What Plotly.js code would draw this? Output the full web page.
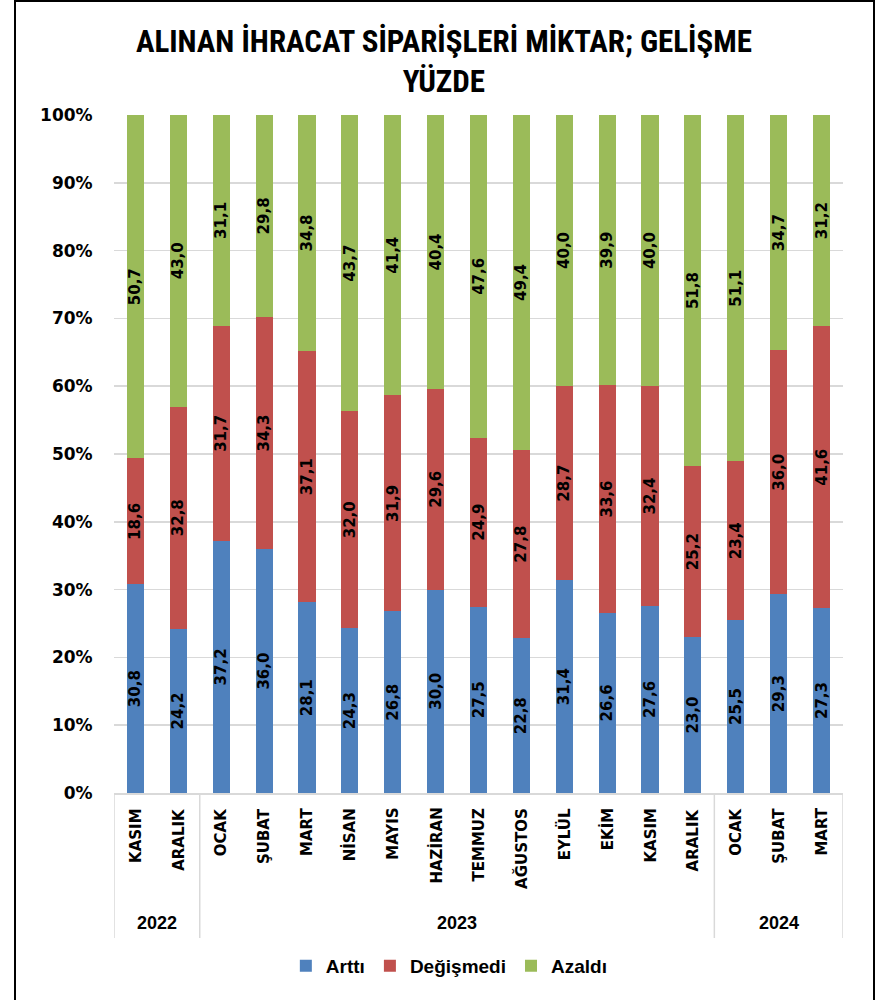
<!DOCTYPE html>
<html>
<head>
<meta charset="utf-8">
<script src="https://cdn.plot.ly/plotly-3.0.1.min.js"></script>
<style>
html,body{margin:0;padding:0;background:#fff;}
#frame{position:absolute;left:14px;top:0px;width:857px;height:1010px;border:2px solid #000;box-sizing:content-box;}
#chart{position:absolute;left:0;top:0;width:879px;height:1000px;}
</style>
</head>
<body>
<div id="frame"></div>
<div id="chart"></div>
<script>
const years = ['2022','2022','2023','2023','2023','2023','2023','2023','2023','2023','2023','2023','2023','2023','2024','2024','2024'];
const months = ['KASIM','ARALIK','OCAK','ŞUBAT','MART','NİSAN','MAYIS','HAZİRAN','TEMMUZ','AĞUSTOS','EYLÜL','EKİM','KASIM','ARALIK','OCAK','ŞUBAT','MART'];
const artti = [30.8,24.2,37.2,36.0,28.1,24.3,26.8,30.0,27.5,22.8,31.4,26.6,27.6,23.0,25.5,29.3,27.3];
const degismedi = [18.6,32.8,31.7,34.3,37.1,32.0,31.9,29.6,24.9,27.8,28.7,33.6,32.4,25.2,23.4,36.0,41.6];
const azaldi = [50.7,43.0,31.1,29.8,34.8,43.7,41.4,40.4,47.6,49.4,40.0,39.9,40.0,51.8,51.1,34.7,31.2];
const seriesNames = ['Arttı','Değişmedi','Azaldı'];
const colors = ['#4F81BD','#C0504D','#9BBB59'];
const yTicks = [0,10,20,30,40,50,60,70,80,90,100];

const idx = months.map((m, i) => i);
const fmt = v => v.toFixed(1).replace('.', ',');
const labelFont = {family:'DejaVu Sans, Verdana, sans-serif', size:15, color:'#000', weight:'bold'};

const traces = [artti, degismedi, azaldi].map((vals, i) => ({
  type:'bar',
  name: seriesNames[i],
  x: idx,
  y: vals,
  text: vals.map(fmt),
  textposition:'inside',
  insidetextanchor:'middle',
  textangle:-90,
  constraintext:'none',
  textfont: labelFont,
  marker:{color:colors[i], line:{width:0}},
  hoverinfo:'skip'
}));

// year groups -> annotations and dividers
const groups = [];
years.forEach((y, i) => {
  const g = groups[groups.length - 1];
  if (g && g.year === y) g.last = i; else groups.push({year:y, first:i, last:i});
});
const plotTop = 115, plotBottom = 793, plotH = plotBottom - plotTop;
const yearY = (plotBottom - 923) / plotH;
const monthY = (plotBottom - 806) / plotH;
const divEnd = (plotBottom - 938) / plotH;

const yearAnnotations = groups.map(g => ({
  x:(g.first + g.last) / 2, xref:'x', y:yearY, yref:'paper',
  text:g.year, showarrow:false, xanchor:'center', yanchor:'middle',
  font:{family:'Liberation Sans, Arial, sans-serif', size:18, color:'#000', weight:'bold'}
}));
const monthAnnotations = months.map((m, i) => ({
  x:i, xref:'x', y:monthY, yref:'paper',
  text:m, showarrow:false, textangle:-90, xanchor:'center', yanchor:'top',
  font:{family:'DejaVu Sans, Verdana, sans-serif', size:15, color:'#000', weight:'bold'}
}));
const bounds = [groups[0].first - 0.5].concat(groups.map(g => g.last + 0.5));
const shapes = bounds.map(b => ({
  type:'line', xref:'x', yref:'paper', x0:b, x1:b, y0:0, y1:divEnd,
  line:{color:'#D9D9D9', width:1.5}
}));

const layout = {
  width:879, height:1000,
  paper_bgcolor:'rgba(0,0,0,0)',
  plot_bgcolor:'rgba(0,0,0,0)',
  margin:{l:114, r:36, t:plotTop, b:1000 - plotBottom},
  barmode:'stack',
  barnorm:'percent',
  bargap:0.6,
  title:{
    text:'ALINAN İHRACAT SİPARİŞLERİ MİKTAR; GELİŞME<br>YÜZDE',
    x:0.505, xanchor:'center', yref:'container', y:0.948, yanchor:'top',
    font:{family:'Liberation Sans Narrow, Arial Narrow, Roboto Condensed, sans-serif', size:31, color:'#000', weight:'bold'}
  },
  xaxis:{
    range:[-0.5, months.length - 0.5],
    tickvals:idx,
    showticklabels:false,
    showline:true, linecolor:'#D9D9D9', linewidth:1.5,
    ticks:'', showgrid:false, zeroline:false, fixedrange:true
  },
  yaxis:{
    range:[0,100],
    tickvals:yTicks,
    ticktext:yTicks.map(v => v + '%'),
    tickfont:{family:'DejaVu Sans, Verdana, sans-serif', size:17, color:'#000', weight:'bold'},
    showgrid:true, gridcolor:'#D9D9D9', gridwidth:1.5,
    zeroline:false, showline:false,
    ticks:'outside', ticklen:17, tickcolor:'rgba(0,0,0,0)'
  },
  annotations: monthAnnotations.concat(yearAnnotations),
  shapes: shapes,
  showlegend:true,
  legend:{
    orientation:'h', x:0.46, xanchor:'center', y:(plotBottom - 966) / plotH, yanchor:'middle',
    font:{family:'Liberation Sans, Arial, sans-serif', size:19, color:'#000', weight:'bold'},
    traceorder:'normal', itemwidth:30
  }
};

Plotly.newPlot('chart', traces, layout, {displayModeBar:false, staticPlot:true});
</script>
</body>
</html>
